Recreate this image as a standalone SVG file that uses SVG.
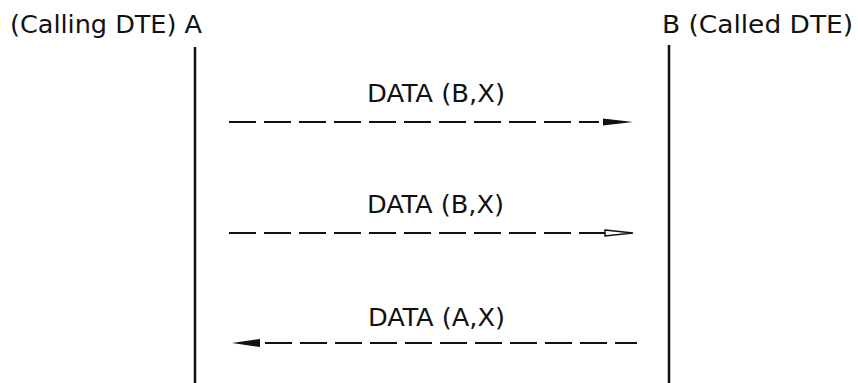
<svg xmlns="http://www.w3.org/2000/svg" width="858" height="383" viewBox="0 0 858 383">
<style>
text{font-family:"DejaVu Sans Condensed","Liberation Sans",sans-serif;font-size:24px;fill:#111}
.life{stroke:#111;stroke-width:2.5}
.msg{stroke:#111;stroke-width:2;stroke-dasharray:27 8;fill:none}
</style>
<rect width="858" height="383" fill="#fff"/>
<g id="nodeA">
<text x="10" y="33" textLength="192" lengthAdjust="spacingAndGlyphs">(Calling DTE) A</text>
<line class="life" x1="195" y1="47" x2="195" y2="383"/>
</g>
<g id="nodeB">
<text x="662" y="33" textLength="191" lengthAdjust="spacingAndGlyphs">B (Called DTE)</text>
<line class="life" x1="669" y1="45" x2="669" y2="383"/>
</g>
<g id="connectors">
<g id="m1">
<text x="367" y="102" textLength="138" lengthAdjust="spacingAndGlyphs">DATA (B,X)</text>
<path class="msg" d="M229 122H599"/>
<polygon points="603,118.5 633,122 603,125.5" fill="#111"/>
</g>
<g id="m2">
<text x="367" y="213" textLength="137" lengthAdjust="spacingAndGlyphs">DATA (B,X)</text>
<path class="msg" d="M229 233H605"/>
<polygon points="605,230 633,233 605,236" fill="#fff" stroke="#111" stroke-width="1.5"/>
</g>
<g id="m3">
<text x="368" y="326" textLength="137" lengthAdjust="spacingAndGlyphs">DATA (A,X)</text>
<path class="msg" d="M265 343H637"/>
<polygon points="260,339 232,343 260,347" fill="#111"/>
</g>
</g>
</svg>
